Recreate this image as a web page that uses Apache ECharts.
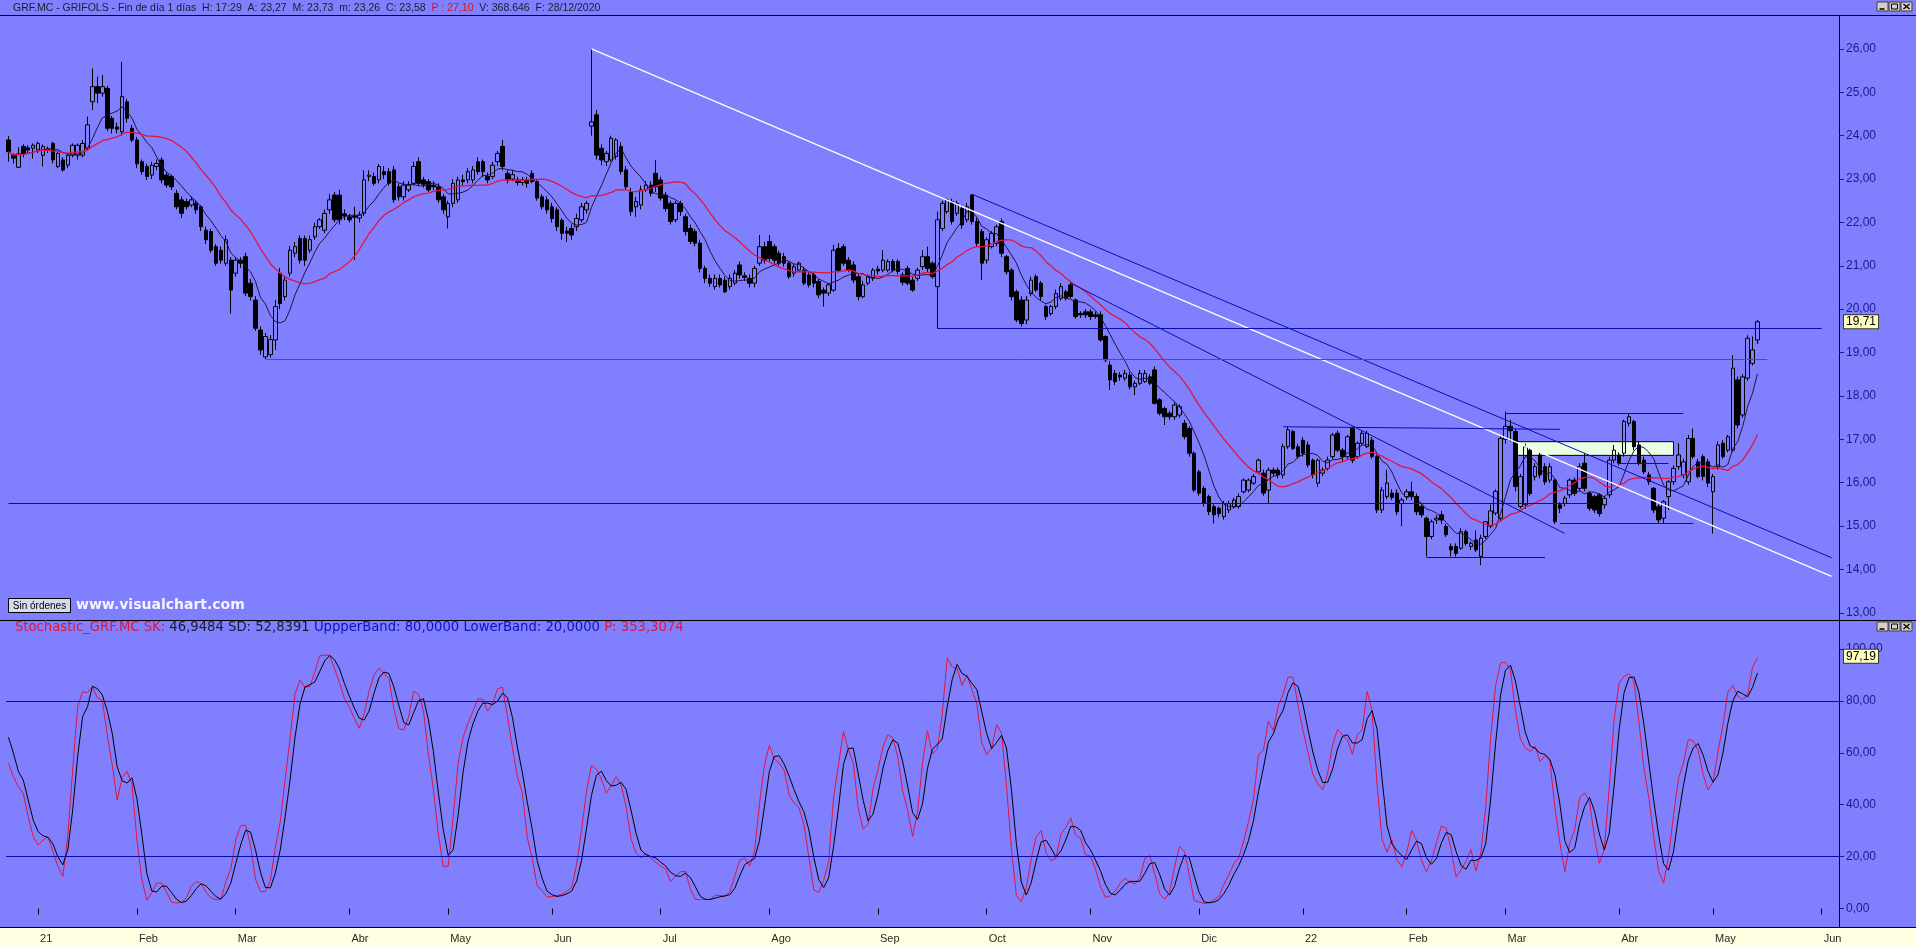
<!DOCTYPE html>
<html><head><meta charset="utf-8">
<script src="https://cdn.jsdelivr.net/npm/echarts@6/dist/echarts.min.js"></script>
<style>
html,body{margin:0;padding:0;}
#c{width:1916px;height:946px;background:linear-gradient(to bottom,#8080ff 0,#8080ff 927px,#ffffe1 927px,#ffffe1 946px);}
</style>
</head><body><div id="c"></div>
<script>
// ---------- calendar ----------
const startDate = '2020-12-21';
const extraSlots = 16;
const holidays = ['2020-12-24','2020-12-25','2020-12-31','2021-01-01','2021-04-02','2021-04-05','2021-12-24','2021-12-31','2022-04-15','2022-04-18'];
const monthNames = ['Ene','Feb','Mar','Abr','May','Jun','Jul','Ago','Sep','Oct','Nov','Dic'];
const priceTicks = [13,14,15,16,17,18,19,20,21,22,23,24,25,26];
const stochTicks = [0,20,40,60,80,100];

// ---------- OHLC ----------
const opens = [
23.90,23.55,23.27,23.75,23.72,23.71,23.67,23.55,23.67,23.82,
23.29,23.44,23.32,23.55,23.55,23.55,23.71,24.78,25.13,24.98,
25.09,24.40,24.20,24.09,24.78,24.17,23.90,23.40,23.29,23.09,
23.29,23.44,23.09,23.06,22.67,22.52,22.48,22.40,22.44,22.36,
21.82,21.79,21.44,21.36,21.06,21.13,20.83,21.13,21.21,20.60,
20.21,19.52,18.90,18.95,19.29,20.83,20.29,20.83,21.29,21.63,
21.63,21.36,21.67,21.90,21.82,22.29,22.63,22.63,22.20,22.13,
22.15,22.10,22.21,23.06,23.06,22.98,23.17,23.17,23.21,22.82,
22.59,22.75,22.90,23.40,22.98,22.94,22.86,22.82,22.59,22.13,
22.44,22.52,22.98,22.98,22.98,23.40,23.40,23.06,23.06,23.40,
23.75,23.13,23.00,22.98,22.92,22.98,23.13,22.94,22.59,22.52,
22.36,22.29,22.05,21.80,21.86,21.90,22.06,22.29,24.22,24.48,
23.71,23.40,23.44,23.52,23.75,23.21,22.71,22.36,22.40,22.75,
22.86,23.13,22.98,22.63,22.44,22.06,22.44,22.13,21.86,21.79,
21.52,20.94,20.71,20.52,20.71,20.67,20.52,20.60,21.02,20.77,
20.71,20.60,21.06,21.44,21.56,21.44,21.29,21.21,21.06,20.83,
20.90,20.90,20.79,20.79,20.64,20.44,20.37,20.44,21.40,21.44,
21.13,21.02,20.75,20.29,20.60,20.71,20.92,20.90,20.90,21.10,
21.10,20.79,20.94,20.67,20.71,20.98,21.21,21.06,20.52,21.86,
22.25,22.48,22.21,22.32,22.06,22.63,22.02,21.79,21.13,21.44,
21.52,22.02,21.21,20.90,20.40,20.21,19.75,20.36,20.75,20.60,
20.06,19.90,20.06,20.25,20.40,20.56,20.21,19.90,19.94,19.94,
19.87,19.87,19.37,18.71,18.52,18.48,18.41,18.48,18.21,18.29,
18.33,18.44,18.60,17.91,17.71,17.60,17.52,17.56,17.37,17.25,
16.68,16.25,15.87,15.68,15.45,15.41,15.22,15.37,15.45,15.45,
15.79,15.83,15.99,16.25,16.22,15.83,16.29,16.29,16.18,16.83,
17.18,16.83,16.98,16.87,16.52,15.99,16.22,16.33,16.60,17.14,
16.75,16.60,17.25,16.60,16.91,16.83,16.98,16.60,15.37,15.68,
15.76,15.76,15.52,15.68,15.79,15.68,15.45,15.18,14.76,15.14,
15.26,14.99,14.53,14.53,14.49,14.87,14.53,14.68,14.30,14.76,
15.00,15.30,15.18,17.00,17.30,17.18,15.45,15.49,16.75,16.14,
16.64,16.37,16.06,16.06,15.49,15.52,15.72,16.06,15.87,16.45,
15.75,15.68,15.72,15.49,15.72,16.52,16.64,16.68,17.37,17.41,
16.87,16.52,16.18,15.87,15.45,15.18,15.68,16.02,16.37,16.18,
16.02,17.02,16.48,16.60,16.48,15.79,16.37,16.91,16.75,16.75,
18.37,17.56,18.41,18.75,19.29];
const closes = [
23.63,23.48,23.58,23.59,23.67,23.78,23.82,23.75,23.70,23.44,
23.59,23.21,23.55,23.78,23.78,23.82,24.25,25.13,24.98,25.13,
24.17,24.17,24.15,24.90,24.40,23.90,23.35,23.17,23.06,23.32,
23.36,22.98,22.86,22.82,22.36,22.21,22.36,22.52,22.29,21.90,
21.60,21.36,21.06,21.13,21.60,20.44,21.13,21.06,20.37,20.29,
19.56,19.06,19.37,19.30,20.06,20.13,20.67,21.36,21.44,21.13,
21.13,21.60,21.90,22.06,22.21,22.52,22.06,22.06,22.15,22.06,
22.12,22.17,22.98,23.09,22.90,23.29,23.10,22.90,22.52,22.59,
22.86,22.86,23.29,22.90,22.88,22.75,22.82,22.52,22.29,22.44,
22.90,22.98,22.94,23.17,23.21,23.17,23.17,22.98,23.32,23.59,
23.29,22.98,23.10,22.92,22.98,22.90,22.94,22.56,22.36,22.29,
22.09,21.90,21.75,21.75,21.71,22.09,22.36,22.44,24.32,23.55,
23.44,23.59,23.94,23.90,23.17,22.82,22.25,22.48,22.75,22.86,
22.67,22.82,22.56,22.32,22.02,22.44,22.25,21.79,21.56,21.52,
20.94,20.71,20.60,20.71,20.56,20.40,20.71,20.83,20.79,20.73,
20.60,20.94,21.44,21.13,21.17,21.13,21.06,21.06,20.75,20.98,
21.06,20.60,20.56,20.60,20.33,20.37,20.56,21.36,20.90,21.06,
20.90,20.67,20.29,20.56,20.75,20.90,20.88,21.13,21.10,20.90,
20.87,20.62,20.60,20.44,20.90,21.21,20.94,20.75,22.06,22.44,
22.52,22.02,22.44,21.94,22.36,22.02,21.52,21.06,21.60,21.75,
21.90,21.29,20.86,20.29,19.75,19.67,20.21,20.67,20.44,20.29,
19.83,20.06,20.36,20.52,20.25,20.29,19.83,19.87,19.87,19.83,
19.83,19.29,18.83,18.37,18.33,18.44,18.52,18.21,18.29,18.52,
18.52,18.29,17.83,17.60,17.52,17.52,17.79,17.75,17.06,16.68,
15.83,15.76,15.52,15.33,15.26,15.29,15.52,15.52,15.60,15.68,
16.06,16.06,16.14,16.52,15.76,16.29,16.22,16.18,16.83,17.22,
16.79,16.60,16.68,16.41,16.18,16.52,16.29,16.52,17.10,16.75,
16.60,17.06,16.52,16.91,17.14,17.14,16.60,15.37,15.83,15.99,
15.66,15.33,15.60,15.79,15.68,15.33,15.26,14.76,15.10,15.18,
15.14,14.80,14.45,14.37,14.87,14.60,14.60,14.45,14.72,15.10,
15.35,15.80,17.02,17.30,17.20,15.91,16.14,16.83,15.75,16.37,
16.18,16.02,16.37,15.10,15.41,15.64,16.06,15.75,16.37,15.87,
15.41,15.37,15.29,15.64,16.52,16.75,16.45,17.41,17.52,16.83,
16.45,16.25,16.02,15.37,15.14,15.56,16.02,16.33,16.64,16.48,
17.02,16.60,16.14,16.14,15.99,16.14,16.87,16.60,17.06,18.64,
17.33,18.44,19.33,19.06,19.71];
const lows = [
23.40,23.36,23.26,23.50,23.60,23.47,23.60,23.29,23.60,23.36,
23.25,23.17,23.25,23.50,23.45,23.50,23.65,24.59,24.75,24.90,
24.10,24.05,24.05,24.00,24.30,23.85,23.25,23.10,22.98,23.00,
23.20,22.90,22.80,22.75,22.30,22.10,22.30,22.35,22.20,21.80,
21.50,21.30,21.00,21.05,21.00,19.90,20.75,20.95,20.30,20.20,
19.50,18.95,18.85,18.88,19.06,20.00,20.20,20.75,21.20,21.05,
21.00,21.30,21.60,21.85,21.75,22.20,22.00,21.95,22.05,22.00,
21.13,22.00,22.15,22.95,22.85,22.90,23.00,22.85,22.45,22.50,
22.50,22.70,22.85,22.85,22.80,22.70,22.75,22.45,22.20,21.86,
22.35,22.45,22.85,22.90,22.90,23.10,23.05,22.90,23.00,23.30,
23.20,22.90,22.95,22.85,22.85,22.80,22.90,22.50,22.30,22.20,
22.00,21.80,21.60,21.55,21.60,21.80,22.00,22.20,24.00,23.45,
23.32,23.30,23.40,23.45,23.10,22.75,22.15,22.13,22.30,22.70,
22.60,22.70,22.50,22.25,21.95,22.00,22.15,21.70,21.50,21.45,
20.85,20.60,20.52,20.45,20.50,20.37,20.45,20.55,20.70,20.65,
20.50,20.50,21.00,21.05,21.10,21.05,21.00,20.98,20.70,20.75,
20.85,20.55,20.50,20.50,20.25,20.06,20.30,20.40,20.85,21.00,
20.85,20.60,20.20,20.25,20.55,20.65,20.80,20.85,20.85,20.85,
20.80,20.55,20.55,20.40,20.65,20.90,20.85,20.70,19.56,21.80,
22.20,21.95,22.15,21.85,22.00,21.95,21.45,20.67,21.05,21.40,
21.45,21.20,20.80,20.20,19.70,19.60,19.65,20.30,20.40,20.20,
19.75,19.85,20.00,20.20,20.20,20.25,19.78,19.80,19.80,19.75,
19.78,19.25,18.78,18.14,18.25,18.35,18.35,18.15,18.02,18.25,
18.30,18.25,17.80,17.55,17.33,17.45,17.45,17.50,17.00,16.60,
15.78,15.70,15.45,15.25,15.06,15.20,15.15,15.30,15.40,15.40,
15.75,15.78,15.95,16.20,15.70,15.52,16.15,16.10,16.10,16.78,
16.75,16.55,16.60,16.35,16.10,15.90,16.15,16.28,16.55,16.70,
16.50,16.55,16.45,16.55,16.85,16.80,16.55,15.30,15.30,15.62,
15.60,15.25,15.00,15.60,15.60,15.25,15.20,14.30,14.70,15.05,
15.05,14.75,14.30,14.30,14.45,14.55,14.45,14.40,14.10,14.70,
14.95,15.25,15.10,16.90,16.95,15.80,15.40,15.40,15.70,16.05,
16.10,15.95,16.00,15.05,15.30,15.45,15.65,15.70,15.80,15.80,
15.35,15.30,15.22,15.40,15.65,16.45,16.40,16.60,17.30,16.75,
16.40,16.20,15.95,15.30,15.06,15.06,15.37,15.95,16.30,16.10,
15.95,16.55,16.10,16.05,15.90,14.83,16.30,16.55,16.70,16.70,
17.25,17.50,18.35,18.70,19.20];
const highs = [
23.99,23.59,23.73,23.80,23.78,23.82,23.86,23.80,23.75,23.86,
23.65,23.50,23.60,23.82,23.82,23.90,24.44,25.55,25.36,25.40,
25.15,24.45,24.30,25.70,24.85,24.25,23.97,23.45,23.35,23.40,
23.45,23.50,23.15,23.10,22.75,22.60,22.55,22.60,22.50,22.40,
21.90,21.85,21.50,21.45,21.70,21.20,21.20,21.20,21.30,20.70,
20.30,19.60,19.45,19.40,20.21,20.95,20.75,21.45,21.55,21.70,
21.70,21.70,22.00,22.10,22.30,22.65,22.70,22.75,22.30,22.20,
22.36,22.25,23.20,23.20,23.15,23.35,23.30,23.25,23.30,22.90,
22.95,22.95,23.40,23.50,23.05,23.00,22.95,22.90,22.65,22.50,
23.00,23.05,23.10,23.25,23.30,23.50,23.45,23.15,23.40,23.65,
23.90,23.20,23.20,23.05,23.05,23.05,23.20,23.00,22.65,22.60,
22.45,22.35,22.10,21.90,21.95,22.20,22.45,22.50,26.00,24.59,
23.80,23.65,24.00,23.94,23.85,23.30,22.80,22.59,22.85,22.95,
22.95,23.44,23.05,22.70,22.50,22.50,22.50,22.20,21.95,21.85,
21.60,21.00,20.80,20.80,20.80,20.75,20.80,20.90,21.10,20.85,
20.80,21.00,21.71,21.55,21.71,21.50,21.35,21.30,21.10,21.05,
21.10,20.98,20.85,20.85,20.70,20.50,20.60,21.48,21.52,21.50,
21.20,21.10,20.80,20.65,20.80,20.95,21.00,21.36,21.15,21.15,
21.15,20.85,21.00,20.75,20.95,21.36,21.44,21.10,22.25,22.50,
22.55,22.55,22.50,22.40,22.45,22.65,22.10,21.85,21.65,21.80,
21.95,22.09,21.25,20.95,20.45,20.30,20.30,20.75,20.80,20.65,
20.10,20.10,20.45,20.60,20.45,20.62,20.25,19.95,20.00,20.00,
19.95,19.95,19.40,18.80,18.60,18.55,18.60,18.55,18.35,18.60,
18.60,18.50,18.68,17.95,17.75,17.65,17.85,17.80,17.45,17.30,
16.72,16.30,15.92,15.72,15.50,15.45,15.58,15.58,15.65,15.75,
16.10,16.10,16.20,16.56,16.30,16.35,16.35,16.35,16.90,17.29,
17.22,16.90,17.05,16.95,16.56,16.56,16.35,16.60,17.15,17.20,
16.80,17.10,17.29,16.95,17.20,17.20,17.05,16.65,15.90,16.30,
15.85,15.85,15.65,15.85,16.02,15.75,15.50,15.22,15.15,15.25,
15.35,15.05,14.60,14.60,14.95,14.92,14.65,14.90,14.80,15.10,
15.50,15.85,17.10,17.64,17.45,17.25,16.20,16.90,16.80,16.45,
16.70,16.45,16.45,16.10,15.55,15.70,16.10,16.12,16.45,16.68,
15.80,15.72,15.76,15.70,16.60,16.87,16.70,17.45,17.60,17.45,
16.95,16.60,16.25,15.90,15.50,15.60,16.06,16.40,16.91,16.55,
17.10,17.25,16.55,16.65,16.55,16.20,16.95,16.98,17.10,18.94,
18.45,18.50,19.40,19.37,19.75];

// ---------- indicator settings ----------
const maFast = 7, maSlow = 20;
const stochK = 14, stochSmooth = 3;
const stochLastLabel = 97.19;
const warmSK = [56.0,50.8,46.95,44.4,35.4,27.7,24.5,26.4,27.7,21.9,16.2,12.3,27.7,53.4,77.8,83.5,83.2];
const warmSD = [66.0,59.9,52.84,49.5,41.8,34.1,29.6,28.0,27.4,24.9,19.9,16.8,22.5,38.0,58.5,73.9,77.8];

// ---------- chart drawings (data coordinates: [barIndex, price]) ----------
const drawings = [
  [[118, 26.00], [369, 13.84], '#ffffff', 1.3],
  [[195, 22.65], [369, 14.27], '#0a0ab4', 1],
  [[215, 20.60], [315, 14.83], '#0a0ab4', 1],
  [[188, 19.56], [367, 19.56], '#0a0ab4', 1],
  [[52, 18.85],  [356, 18.85], '#e0143c', 1],
  [[0, 15.53],   [320, 15.53], '#0a0ab4', 1],
  [[258, 17.29], [314, 17.23], '#0a0ab4', 1],
  [[287, 14.29], [311, 14.29], '#0a0ab4', 1],
  [[303, 17.61], [339, 17.61], '#0a0ab4', 1],
  [[314, 15.07], [341, 15.07], '#0a0ab4', 1],
  [[326, 16.45], [336, 16.45], '#0a0ab4', 1]
];
const zoneBox = [[305, 16.945], [337, 16.63]];

// ---------- build categories ----------
function buildDates(){
  const out = []; const hol = new Set(holidays);
  let t = Date.parse(startDate + 'T00:00:00Z');
  while (out.length < closes.length + extraSlots){
    const d = new Date(t); const wd = d.getUTCDay(); const s = d.toISOString().slice(0,10);
    if (wd !== 0 && wd !== 6 && !hol.has(s)) out.push(s);
    t += 86400000;
  }
  return out;
}
const cats = buildDates();
const monthLabel = {};
for (let k = 1; k < cats.length; k++){
  if (cats[k].slice(5,7) !== cats[k-1].slice(5,7)){
    const m = +cats[k].slice(5,7);
    monthLabel[k] = m === 1 ? cats[k].slice(2,4) : monthNames[m-1];
  }
}

// ---------- indicators (computed from the OHLC above) ----------
function sma(src, n){
  return src.map((_, k) => { const a = Math.max(0, k-n+1); let s = 0; for (let j = a; j <= k; j++) s += src[j]; return +(s/(k-a+1)).toFixed(4); });
}
function stochastic(n, s){
  const fk = closes.map((c, k) => {
    const a = Math.max(0, k-n+1);
    const hh = Math.max(...highs.slice(a, k+1)), ll = Math.min(...lows.slice(a, k+1));
    return hh > ll ? 100*(c-ll)/(hh-ll) : 50;
  });
  const sk = sma(fk, s); const sd = sma(sk, s);
  warmSK.forEach((v, k) => { sk[k] = v; });
  warmSD.forEach((v, k) => { sd[k] = v; });
  return {sk, sd};
}
const candles = opens.map((o, k) => [o, closes[k], lows[k], highs[k]]);
const maF = sma(closes, maFast), maS = sma(closes, maSlow);
const st = stochastic(stochK, stochSmooth);

const fmt = v => Number(v).toFixed(2).replace('.', ',');
const AX = '#1a1a8a';
const FONT = 'Liberation Sans, Arial, sans-serif';
const WIDE = 'DejaVu Sans, Verdana, sans-serif';

function winButtons(y){
  const xs = [1877, 1889, 1901];
  const g = [];
  xs.forEach((x) => {
    g.push({type:'rect', shape:{x:x, y:y, width:11, height:9}, style:{fill:'#d4d0c8', stroke:'#404040', lineWidth:1}});
  });
  g.push({type:'line', shape:{x1:1879.5, y1:y+7, x2:1884.5, y2:y+7}, style:{stroke:'#000', lineWidth:1.5}});
  g.push({type:'rect', shape:{x:1891.5, y:y+2, width:6, height:5}, style:{fill:'none', stroke:'#000', lineWidth:1}});
  g.push({type:'line', shape:{x1:1903.5, y1:y+2, x2:1909.5, y2:y+7}, style:{stroke:'#000', lineWidth:1.3}});
  g.push({type:'line', shape:{x1:1909.5, y1:y+2, x2:1903.5, y2:y+7}, style:{stroke:'#000', lineWidth:1.3}});
  return g;
}

const chart = echarts.init(document.getElementById('c'), null, {renderer:'canvas', width:1916, height:946});
const showTick = (i) => monthLabel[i] !== undefined;

chart.setOption({
  animation: false,
  backgroundColor: 'transparent',
  grid: [
    {left:6, right:77, top:16, height:604},
    {left:6, right:77, top:620, height:307}
  ],
  xAxis: [
    {type:'category', gridIndex:0, data:cats, boundaryGap:true, axisLine:{show:false}, axisTick:{show:false}, axisLabel:{show:false}, splitLine:{show:false}},
    {type:'category', gridIndex:1, data:cats, boundaryGap:true, axisLine:{show:false},
     axisTick:{show:true, alignWithLabel:true, interval:showTick, length:6, lineStyle:{color:'#000', width:1}},
     axisLabel:{show:true, interval:showTick, formatter:(v, i) => monthLabel[i] || '', align:'left', margin:6, padding:[0,0,0,2],
       color:'#2a2a2a', fontSize:11, fontFamily:'Liberation Sans Narrow, Liberation Sans, Arial'},
     splitLine:{show:false}}
  ],
  yAxis: [
    {type:'value', gridIndex:0, position:'right', min:12.835, max:26.758, splitLine:{show:false},
     axisLine:{show:true, lineStyle:{color:'#000'}},
     axisTick:{show:true, length:5, customValues:priceTicks, lineStyle:{color:AX}},
     axisLabel:{customValues:priceTicks, formatter:fmt, color:AX, fontSize:12, margin:7, fontFamily:FONT}},
    {type:'value', gridIndex:1, position:'right', min:-7.13, max:111.17, splitLine:{show:false},
     axisLine:{show:true, lineStyle:{color:'#000'}},
     axisTick:{show:true, length:5, customValues:stochTicks, lineStyle:{color:AX}},
     axisLabel:{customValues:stochTicks, formatter:fmt, color:AX, fontSize:12, margin:7, fontFamily:FONT}}
  ],
  series: [
    {type:'candlestick', name:'GRF.MC', xAxisIndex:0, yAxisIndex:0, data:candles, barWidth:4,
     itemStyle:{color:'rgba(0,0,0,0)', color0:'#000', borderColor:'#000', borderColor0:'#000', borderWidth:1},
     markArea:{silent:true, itemStyle:{color:'#eaffe4', borderColor:'#000', borderWidth:1},
       data:[[{coord:zoneBox[0]}, {coord:zoneBox[1]}]]},
     markLine:{silent:true, symbol:['none','none'], animation:false, label:{show:false},
       data: drawings.map(d => [{coord:d[0], lineStyle:{color:d[2], width:d[3], type:'solid'}}, {coord:d[1]}]).concat([
         {yAxis: closes[closes.length-1], lineStyle:{color:'rgba(0,0,0,0)', width:0},
          label:{show:true, position:'end', distance:5, formatter:() => fmt(closes[closes.length-1]),
            backgroundColor:'#ffffc0', borderColor:'#333', borderWidth:1, padding:[1,2,0,2], color:'#000', fontSize:12, fontFamily:FONT}}
       ])}
    },
    {type:'line', name:'MA'+maFast, xAxisIndex:0, yAxisIndex:0, data:maF, symbol:'none', smooth:false,
     lineStyle:{color:'#22103c', width:1}, z:3},
    {type:'line', name:'MA'+maSlow, xAxisIndex:0, yAxisIndex:0, data:maS, symbol:'none',
     lineStyle:{color:'#e0143c', width:1.3}, z:3},
    {type:'line', name:'SK', xAxisIndex:1, yAxisIndex:1, data:st.sk, symbol:'none',
     lineStyle:{color:'#e0143c', width:1}, z:3,
     markLine:{silent:true, symbol:['none','none'], animation:false, label:{show:false},
       data:[
         {yAxis:80, lineStyle:{color:'#0a0ab4', width:1, type:'solid'}},
         {yAxis:20, lineStyle:{color:'#0a0ab4', width:1, type:'solid'}},
         {yAxis:stochLastLabel, lineStyle:{color:'rgba(0,0,0,0)', width:0},
          label:{show:true, position:'end', distance:5, formatter:() => fmt(stochLastLabel),
            backgroundColor:'#ffffc0', borderColor:'#333', borderWidth:1, padding:[1,2,0,2], color:'#000', fontSize:12, fontFamily:FONT}}
       ]}},
    {type:'line', name:'SD', xAxisIndex:1, yAxisIndex:1, data:st.sd, symbol:'none',
     lineStyle:{color:'#000000', width:1}, z:4}
  ],
  graphic: [].concat([
    {type:'line', shape:{x1:0, y1:15.5, x2:1916, y2:15.5}, style:{stroke:'#000', lineWidth:1}, z:10},
    {type:'line', shape:{x1:0, y1:620.5, x2:1916, y2:620.5}, style:{stroke:'#000', lineWidth:1}, z:10},
    {type:'line', shape:{x1:0, y1:927.5, x2:1916, y2:927.5}, style:{stroke:'#000', lineWidth:1}, z:10},
    {type:'text', x:13, y:8, z:10, style:{
      text:'{a|GRF.MC - GRIFOLS - Fin de día 1 días  H: 17:29  A: 23,27  M: 23,73  m: 23,26  C: 23,58  }{r|P : 27,10}{a|  V: 368.646  F: 28/12/2020}',
      verticalAlign:'middle', textVerticalAlign:'middle', font:'10.5px '+FONT,
      rich:{a:{fill:'#1a1a30', color:'#1a1a30', fontSize:10.5, fontFamily:FONT}, r:{fill:'#e01010', color:'#e01010', fontSize:10.5, fontFamily:FONT}}}},
    {type:'text', x:15, y:628, z:10, style:{
      text:'{r|Stochastic_GRF.MC SK: }{a|46,9484 SD: 52,8391 }{b|UppperBand: 80,0000 LowerBand: 20,0000 }{r|P: 353,3074}',
      verticalAlign:'middle', textVerticalAlign:'middle', font:'13.2px '+WIDE,
      rich:{a:{fill:'#1a1a30', color:'#1a1a30', fontSize:13.2, fontFamily:WIDE}, b:{fill:'#1010c0', color:'#1010c0', fontSize:13.2, fontFamily:WIDE}, r:{fill:'#e0143c', color:'#e0143c', fontSize:13.2, fontFamily:WIDE}}}},
    {type:'rect', z:10, shape:{x:8.5, y:598.5, width:62, height:14}, style:{fill:'#d6dcef', stroke:'#000', lineWidth:1}},
    {type:'text', z:11, x:39.5, y:606, style:{text:'Sin órdenes', font:'10px '+FONT, fill:'#000', align:'center', verticalAlign:'middle', textAlign:'center', textVerticalAlign:'middle'}},
    {type:'text', z:10, x:76, y:605, style:{text:'www.visualchart.com', font:'bold 14px '+WIDE, fill:'#f4f4ff', verticalAlign:'middle', textVerticalAlign:'middle'}}
  ], winButtons(2).map(e => Object.assign(e, {z:10})), winButtons(622).map(e => Object.assign(e, {z:10})))
});
</script>
</body></html>
